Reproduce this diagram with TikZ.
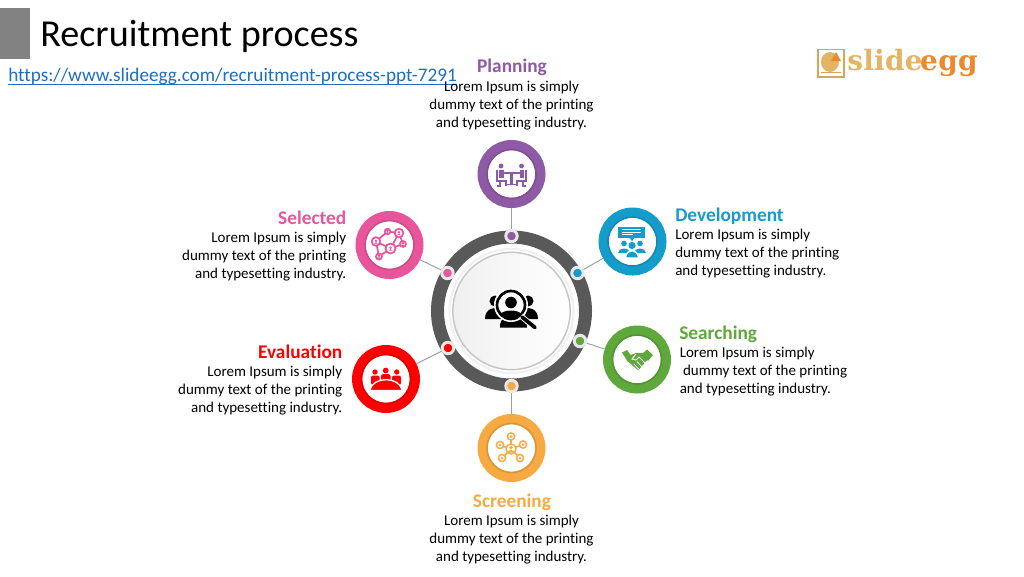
\documentclass[tikz,border=0pt]{standalone}
\usepackage{fontspec}
\setmainfont{Carlito}[Ligatures=NoCommon]
\newfontfamily\logofont[LetterSpace=1]{DejaVu Serif}
\definecolor{cplan}{HTML}{8F5AA5}
\definecolor{cdev}{HTML}{149CCB}
\definecolor{csearch}{HTML}{5FA83C}
\definecolor{cscreen}{HTML}{F7A942}
\definecolor{ceval}{HTML}{FF0000}
\definecolor{csel}{HTML}{E9559B}
\definecolor{cring}{HTML}{595959}
\definecolor{clink}{HTML}{1F6FBF}
\definecolor{cgold}{HTML}{E3B465}
\definecolor{cegg}{HTML}{E88B2E}
\newcommand{\Fhead}{\fontsize{14.5pt}{16pt}\selectfont\bfseries}
\newcommand{\Fbody}{\fontsize{11.25pt}{13.5pt}\selectfont}
\tikzset{
 x=0.75pt,y=-0.75pt,
 stage/.style={circle,draw=#1,line width=7.5pt,fill=white,minimum size=43.5pt,inner sep=0pt},
 innerrim/.style={draw=#1!88!black,line width=1.2pt},
 dot/.style={circle,fill=#1,draw=gray!18,line width=2.2pt,minimum size=8.6pt,inner sep=0pt},
 link/.style={draw=gray!75,line width=0.7pt},
 body/.style={font=\Fbody,inner sep=0pt,text=black},
 heading/.style={font=\Fhead,inner sep=0pt,text=#1},
}
\begin{document}
\begin{tikzpicture}
\useasboundingbox (0,0) rectangle (1024,576);
\fill[white] (0,0) rectangle (1024,576);
% header
\node[name=bar,fill=gray!98,minimum width=22.5pt,minimum height=38.25pt,inner sep=0pt,outer sep=0pt,anchor=north west] at (0,8) {};
\node[name=title,anchor=base west,inner sep=0pt,font=\fontsize{28.6pt}{32pt}\selectfont] at (40,46.5) {Recruitment process};
\node[name=url,anchor=base west,inner sep=0pt,text=clink,font=\fontsize{14.4pt}{16pt}\selectfont] at (8,81) {https://www.slideegg.com/recruitment-process-ppt-7291};
\draw[clink,line width=0.75pt] (8,84) -- (457,84);
% logo
\draw[cgold!70!brown,line width=0.8pt,fill=white] (818,49.5) rectangle (844,77);
\fill[cgold] (830,62) ellipse (9 and 10);
\fill[cegg] (831,61) -- (836,52) -- (841,61) -- cycle;
\draw[cgold!70!brown,line width=0.8pt] (821,72.5) -- (841,72.5);
\node[name=logoa,anchor=base west,inner sep=0pt,text=cgold,font=\logofont\fontsize{21pt}{24pt}\selectfont\bfseries] at (847,70) {slide};
\node[name=logob,anchor=base east,inner sep=0pt,text=cegg,font=\logofont\fontsize{21pt}{24pt}\selectfont\bfseries] at (978,70) {egg};
% main ring
\node[name=ring,circle,draw=cring,line width=9.75pt,minimum size=111pt,inner sep=0pt] at (511.5,311) {};
\node[name=hub,circle,draw=gray!45,line width=1.1pt,left color=gray!12,right color=white,minimum size=88pt,inner sep=0pt] at (511.5,311) {};
\draw[gray!12,line width=1.5pt] (511.5,311) circle (62);
% stage circles
\node[name=plan,stage=cplan] at (511.5,174) {};
\node[name=dev,stage=cdev] at (632.5,241.5) {};
\node[name=search,stage=csearch] at (637,359.5) {};
\node[name=screen,stage=cscreen] at (511.5,448) {};
\node[name=eval,stage=ceval] at (386,379) {};
\node[name=sel,stage=csel] at (389.5,245) {};
\foreach \p/\q/\c in {511.5/174/cplan,632.5/241.5/cdev,637/359.5/csearch,511.5/448/cscreen,386/379/ceval,389.5/245/csel}{
 \draw[innerrim=\c] (\p,\q) circle (24.5);
}
% dots
\node[name=dplan,dot=cplan] at (511.5,236) {};
\node[name=ddev,dot=cdev] at (577.5,273) {};
\node[name=dsearch,dot=csearch] at (580,341) {};
\node[name=dscreen,dot=cscreen] at (511.5,386) {};
\node[name=deval,dot=ceval] at (448,348) {};
\node[name=dsel,dot=csel] at (447.5,273) {};
% connectors
\draw[link] (plan) -- (dplan);
\draw[link] (dev) -- (ddev);
\draw[link] (search) -- (dsearch);
\draw[link] (screen) -- (dscreen);
\draw[link] (eval) -- (deval);
\draw[link] (sel) -- (dsel);
% hub icon
\fill (495,301) circle (5.5);
\fill (528,301) circle (5.5);
\fill (485,319) .. controls (485,308) and (495,307) .. (500,308) -- (505,319) -- cycle;
\fill (538,319) .. controls (538,308) and (528,307) .. (523,308) -- (517,319) -- cycle;
\fill (500,327.5) .. controls (500,318) and (505,315) .. (513,315) .. controls (522,315) and (527,318) .. (527,327.5) -- cycle;
\draw[white,line width=3pt,fill=white] (511,305) circle (15);
\draw[line width=2pt] (511,305) circle (14);
\fill (511,302.5) circle (5.8);
\fill (500,315) .. controls (502,309) and (520,309) .. (522,315) .. controls (518,319) and (504,319) .. (500,315) -- cycle;
\draw[white,line width=4.2pt] (521,316) -- (535,328);
\draw[line width=2.8pt,line cap=round] (522,317) -- (535,327.5);
% planning icon
\begin{scope}[cplan,line width=1.1pt]
\fill (501,166) circle (2.4); \fill (521.5,166) circle (2.4);
\fill (499,169.5) rectangle (503.5,178); \fill (519.5,169.5) rectangle (524,178);
\draw (497,170) -- (497,181) -- (506,181) -- (506,186);
\draw (526,170) -- (526,181) -- (517,181) -- (517,186);
\draw (500,181) -- (500,186) -- (497,186); \draw (523,181) -- (523,186) -- (526,186);
\draw[line width=1.4pt] (503,173) -- (520,173);
\draw[line width=1.6pt] (511.5,173) -- (511.5,184);
\draw (507,184.5) -- (516,184.5);
\end{scope}
% development icon
\begin{scope}[cdev]
\fill (618,226.5) rectangle (645,237.5);
\fill (629,237) -- (635,237) -- (632,241) -- cycle;
\draw[white,line width=0.6pt] (622,229.5) -- (641,229.5) (622,232) -- (641,232) (622,234.5) -- (633,234.5);
\fill (632,245.5) circle (3.6);
\fill (624,243.5) circle (2.8); \fill (640,243.5) circle (2.8);
\fill (618,253) .. controls (618,247) and (630,247) .. (630,253) -- cycle;
\fill (634,253) .. controls (634,247) and (646,247) .. (646,253) -- cycle;
\draw[white,line width=1pt,fill=cdev] (625.5,258) .. controls (625.5,248.5) and (638.5,248.5) .. (638.5,258) -- cycle;
\end{scope}
% searching icon
\begin{scope}[csearch]
\fill (622,352.5) -- (627,350) -- (633,358) -- (628,362) -- cycle;
\fill (647,349.5) -- (653,355) -- (648,361) -- (642,354) -- cycle;
\fill (628,356) -- (636,353) -- (643,353) -- (648,359) -- (642,366) -- (638,370) -- (633,366) -- (628,361) -- cycle;
\draw[white,line width=0.7pt] (636,354) -- (632,359) -- (636,360) -- (639,357) -- (646,364);
\draw[white,line width=0.6pt] (642,367) -- (637,361.5) (638.5,369) -- (634,364);
\end{scope}
% screening icon
\begin{scope}[cscreen,line width=1.1pt]
\foreach \xa/\ya in {511/436.5,523/444.5,520/458,502/458,500/445}{
 \draw (511,449) -- (\xa,\ya);
 \draw[fill=white] (\xa,\ya) circle (3.6);
 \fill (\xa,\ya) circle (1.5);
}
\draw[fill=white] (511,449) circle (5);
\fill (511,447.5) circle (1.8);
\fill (507.8,452.5) .. controls (508,449) and (514,449) .. (514.2,452.5) -- cycle;
\end{scope}
% evaluation icon
\begin{scope}[ceval]
\fill (375,372) circle (2.7); \fill (385.7,370.5) circle (2.9); \fill (396.7,372) circle (2.7);
\fill[rounded corners=1.5pt] (371,375.5) rectangle (379.5,385);
\fill[rounded corners=1.5pt] (381,374.2) rectangle (390.5,385);
\fill[rounded corners=1.5pt] (392,375.5) rectangle (401,385);
\draw[white,line width=1pt,fill=ceval] (370,390.5) .. controls (372,376) and (400,376) .. (402,390.5) -- cycle;
\end{scope}
% selected icon
\begin{scope}[csel,line width=1.3pt]
\draw (376,241.5) -- (387.5,231.5) -- (399,233) -- (403,244) -- (390.5,248.5) -- (379,256.5);
\draw (376,241.5) -- (390.5,248.5) -- (399,233) (376,241.5) -- (379,256.5);
\foreach \xa/\ya/\r in {376/241.5/4.3,399/233/4.3,390.5/248.5/5,387.5/231.5/2.8,403/244/3,379/256.5/3}{
 \draw[fill=white] (\xa,\ya) circle (\r);
 \fill (\xa,\ya-0.8) circle (1.3);
 \fill (\xa-2,\ya+2.2) .. controls (\xa-1.5,\ya) and (\xa+1.5,\ya) .. (\xa+2,\ya+2.2) -- cycle;
}
\end{scope}
% labels
\node[name=hplan,heading=cplan,anchor=base] at (512,72.7) {Planning};
\node[name=tplan,body,align=center,anchor=north] at (511.5,81.3) {Lorem Ipsum is simply\\dummy text of the printing\\and typesetting industry.};
\node[name=hdev,heading=cdev,anchor=base west] at (675,221.3) {Development};
\node[name=tdev,body,align=left,anchor=north west] at (675,229.3) {Lorem Ipsum is simply\\dummy text of the printing\\and typesetting industry.};
\node[name=hsearch,heading=csearch,anchor=base west] at (679,339.7) {Searching};
\node[name=tsearch,body,align=left,anchor=north west] at (679.5,347.3) {Lorem Ipsum is simply\\\hspace*{2.5pt}dummy text of the printing\\and typesetting industry.};
\node[name=hscreen,heading=cscreen,anchor=base] at (512,507.7) {Screening};
\node[name=tscreen,body,align=center,anchor=north] at (511.5,515.3) {Lorem Ipsum is simply\\dummy text of the printing\\and typesetting industry.};
\node[name=heval,heading=ceval,anchor=base east] at (342.5,358.7) {Evaluation};
\node[name=teval,body,align=right,anchor=north east] at (342.5,366.3) {Lorem Ipsum is simply\\dummy text of the printing\\and typesetting industry.};
\node[name=hsel,heading=csel,anchor=base east] at (346.5,224.2) {Selected};
\node[name=tsel,body,align=right,anchor=north east] at (346.5,232.3) {Lorem Ipsum is simply\\dummy text of the printing\\and typesetting industry.};
\end{tikzpicture}
\end{document}
